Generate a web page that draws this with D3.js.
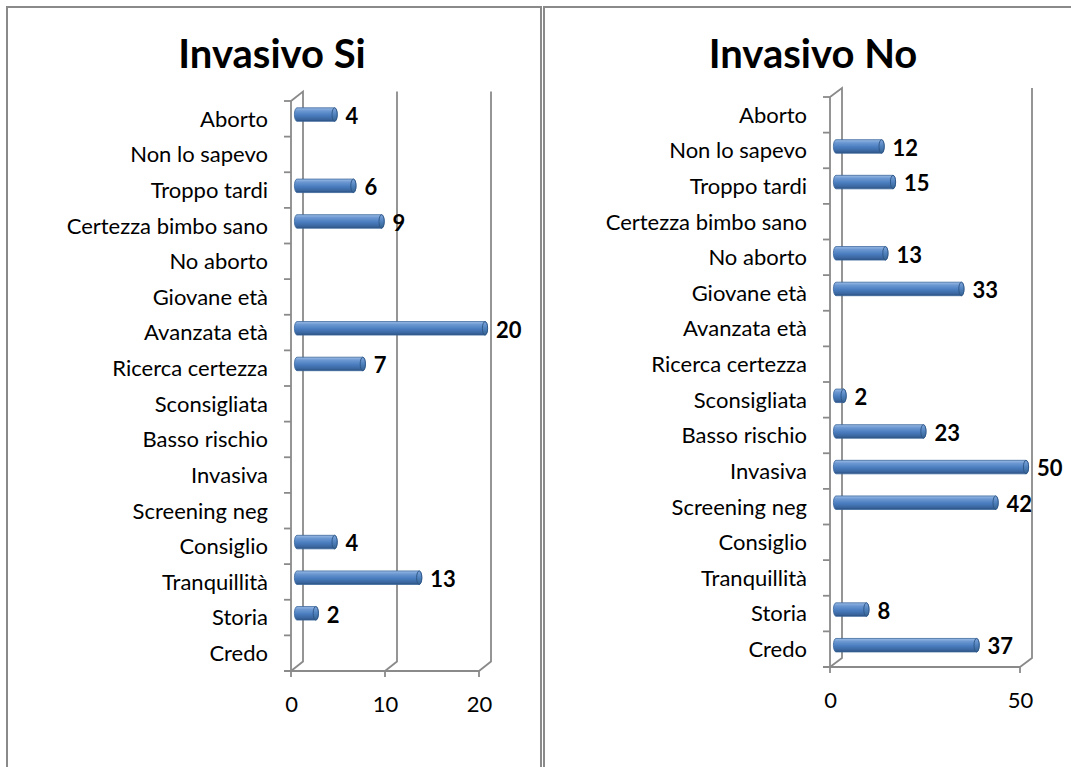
<!DOCTYPE html>
<html>
<head>
<meta charset="utf-8">
<script src="https://cdn.jsdelivr.net/npm/d3@7"></script>
<style>
  html, body { margin: 0; padding: 0; background: #fff; }
  svg { display: block; }
  text { font-family: Lato, "Noto Sans", sans-serif; fill: #000; }
</style>
</head>
<body>
<script>
// Motivazioni, dall'alto verso il basso
const categories = [
  "Aborto", "Non lo sapevo", "Troppo tardi", "Certezza bimbo sano",
  "No aborto", "Giovane età", "Avanzata età", "Ricerca certezza",
  "Sconsigliata", "Basso rischio", "Invasiva", "Screening neg",
  "Consiglio", "Tranquillità", "Storia", "Credo"
];

// Conteggi per chi ha scelto l'esame invasivo (null = nessuna risposta)
const valuesSi = [4, null, 6, 9, null, null, 20, 7, null, null, null, null, 4, 13, 2, null];
// Conteggi per chi non l'ha scelto
const valuesNo = [null, 12, 15, null, 13, 33, null, null, 2, 23, 50, 42, null, null, 8, 37];

const titles = ["Invasivo Si", "Invasivo No"];
const ticksSi = [0, 10, 20];
const ticksNo = [0, 50];

const W = 1071, H = 767;
const svg = d3.select("body").append("svg").attr("width", W).attr("height", H);
svg.append("rect").attr("width", W).attr("height", H).attr("fill", "#fff");

const defs = svg.append("defs");
const body = defs.append("linearGradient").attr("id", "barBody")
  .attr("x1", 0).attr("y1", 0).attr("x2", 0).attr("y2", 1);
[[0, "#9dbde6"], [0.22, "#6c98d2"], [0.55, "#4a7dbf"], [0.85, "#3a669f"], [1, "#2b4f7e"]]
  .forEach(([o, c]) => body.append("stop").attr("offset", o).attr("stop-color", c));
const cap = defs.append("linearGradient").attr("id", "barCap")
  .attr("x1", 0).attr("y1", 0).attr("x2", 0).attr("y2", 1);
[[0, "#7fa6dc"], [0.5, "#4f81bd"], [1, "#34618f"]]
  .forEach(([o, c]) => cap.append("stop").attr("offset", o).attr("stop-color", c));

const LINE = "#8a8a8a";

// Cornici dei due pannelli
svg.append("rect").attr("x", 7).attr("y", 7).attr("width", 534).attr("height", 820)
  .attr("fill", "none").attr("stroke", LINE).attr("stroke-width", 2);
svg.append("rect").attr("x", 544).attr("y", 7).attr("width", 620).attr("height", 820)
  .attr("fill", "none").attr("stroke", LINE).attr("stroke-width", 2);

function panel(o) {
  const g = svg.append("g");
  const x = d3.scaleLinear().domain([0, o.max]).range(o.xRange);
  const y = d3.scaleBand().domain(categories).range(o.yRange);
  const dx = o.depth[0], dy = o.depth[1];
  const top = o.yRange[0], bot = o.yRange[1];
  const x0 = x(0);

  // Titolo
  g.append("text").attr("x", o.titleX).attr("y", 68)
    .attr("text-anchor", "middle").style("font-size", "40px").style("font-weight", "bold")
    .text(o.title);

  const lines = g.append("g").attr("stroke", LINE).attr("stroke-width", 1.8).attr("fill", "none");

  // Parete di fondo: linee della griglia verticali con raccordo al piano frontale
  o.ticks.forEach(t => {
    const xb = x(t) + dx;
    if (t !== 0) {
      lines.append("path").attr("d", `M${xb},${top + dy}V${bot + dy}L${x(t)},${bot}`);
    }
  });
  // Asse delle categorie: linea frontale, linea di fondo e raccordi
  lines.append("path").attr("d", `M${x0},${top}L${x0 + dx},${top + dy}V${bot + dy}L${x0},${bot}`);
  lines.append("path").attr("d", `M${x0},${top}V${bot}`);
  d3.range(categories.length + 1).forEach(i => {
    const yy = top + i * y.step();
    lines.append("path").attr("d", `M${x0 - 7},${yy}H${x0}`);
  });
  // Asse dei valori
  lines.append("path").attr("d", `M${x0 - 7},${bot}H${x(o.max)}`);
  o.ticks.forEach(t => lines.append("path").attr("d", `M${x(t)},${bot}V${bot + 6}`));

  // Etichette delle categorie
  const yAxis = g.append("g").attr("transform", `translate(${x0},0)`)
    .call(d3.axisLeft(y).tickSize(0).tickPadding(23));
  yAxis.select(".domain").remove();
  yAxis.selectAll("text").attr("font-family", null).style("font-size", "22px").attr("dy", "0.36em");

  // Etichette dei valori sull'asse orizzontale
  const xAxis = g.append("g").attr("transform", `translate(0,${bot})`)
    .call(d3.axisBottom(x).tickValues(o.ticks).tickSize(0).tickFormat(d3.format("d")));
  xAxis.select(".domain").remove();
  xAxis.selectAll("text").attr("font-family", null).style("font-size", "22px")
    .attr("y", 33).attr("dy", "0.35em");

  // Barre cilindriche
  const data = categories.map((c, i) => ({ c, v: o.values[i] })).filter(d => d.v != null);
  const h = 13.5, rx = 2.6;
  const bars = g.append("g").selectAll("g").data(data).join("g");
  bars.each(function (d) {
    const sel = d3.select(this);
    const yc = y(d.c) + y.bandwidth() / 2 + dy / 2 + 0.5;
    const xs = x0 + dx / 2, xe = x(d.v) + dx / 2;
    sel.append("path")
      .attr("d", `M${xs},${yc - h / 2}H${xe}A${rx},${h / 2} 0 0 1 ${xe},${yc + h / 2}H${xs}A${rx},${h / 2} 0 0 1 ${xs},${yc - h / 2}Z`)
      .attr("fill", "url(#barBody)").attr("stroke", "#3b679c").attr("stroke-width", 0.8);
    sel.append("ellipse").attr("cx", xe).attr("cy", yc).attr("rx", rx).attr("ry", h / 2)
      .attr("fill", "url(#barCap)").attr("stroke", "#2d5584").attr("stroke-width", 0.9);
    sel.append("text").attr("x", xe + 11).attr("y", yc + 1.5).attr("dy", "0.35em")
      .style("font-size", "22px").style("font-weight", "bold").text(d.v);
  });
}

panel({ title: titles[0], titleX: 272, values: valuesSi, max: 20, ticks: ticksSi,
        xRange: [291, 479], yRange: [101, 671], depth: [12, -9.5] });
panel({ title: titles[1], titleX: 813, values: valuesNo, max: 50, ticks: ticksNo,
        xRange: [830, 1020], yRange: [97, 667], depth: [12, -9] });
</script>
</body>
</html>
